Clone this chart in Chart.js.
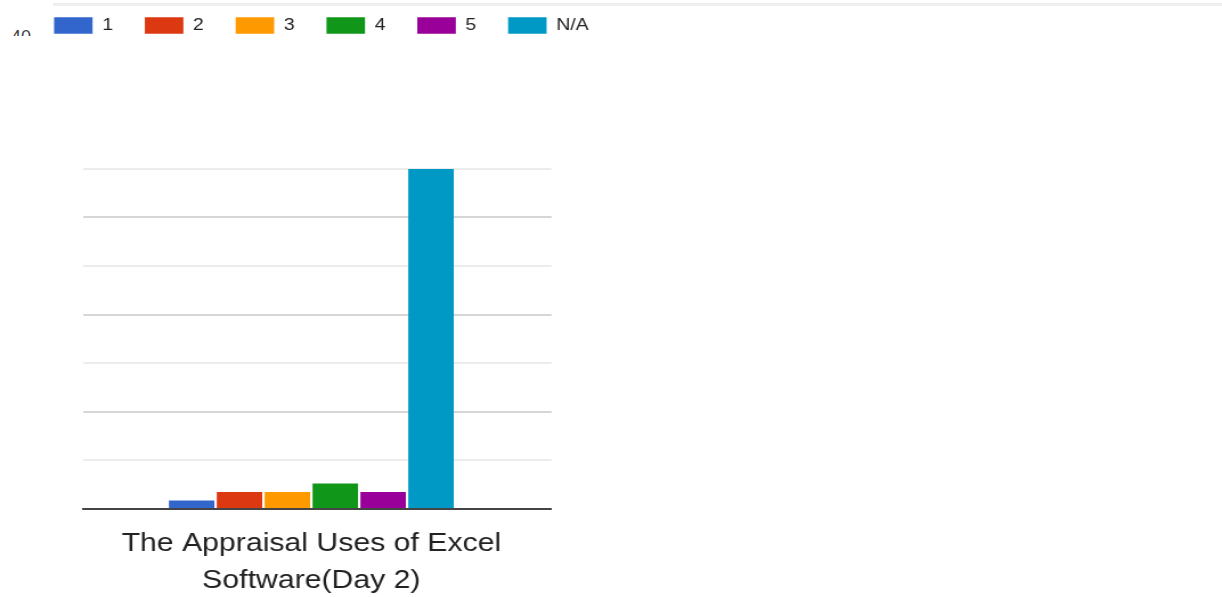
<!DOCTYPE html>
<html lang="en">
<head>
  <meta charset="UTF-8">
  <title>The Appraisal Uses of Excel Software (Day 2)</title>
  <script src="https://cdn.jsdelivr.net/npm/chart.js"></script>
  <style>
    body {
      margin: 0;
      width: 1222px;
      height: 597px;
      overflow: hidden;
      background: #fff;
      font-family: "Liberation Sans", Arial, sans-serif;
      position: relative;
    }
    .top-rule {
      position: absolute;
      left: 53px;
      right: 0;
      top: 3px;
      height: 3px;
      background: #efefef;
    }
    .cut-label {
      position: absolute;
      left: 11px;
      top: 29px;
      height: 7px;
      overflow: hidden;
      color: #444;
      font-size: 18px;
      line-height: 18px;
    }
    .cut-label span {
      position: relative;
      top: -1px;
    }
    #stage {
      position: absolute;
      left: 0;
      top: -13px;
      width: 1072px;
      height: 610px;
      transform: scaleX(1.14);
      transform-origin: 0 0;
    }
  </style>
</head>
<body>
  <div class="top-rule"></div>
  <div class="cut-label"><span>40</span></div>
  <div id="stage">
    <canvas id="chart" width="1072" height="610"></canvas>
  </div>

  <script>
    // values
    const category = ['The Appraisal Uses of Excel', 'Software(Day 2)'];
    const seriesNames = ['1', '2', '3', '4', '5', 'N/A'];
    const seriesValues = [1, 2, 2, 3, 2, 40];
    const seriesColors = ['#3366cc', '#dc3912', '#ff9900', '#109618', '#990099', '#0099c6'];
    const yMax = 40;
    const gridSteps = 7;

    Chart.defaults.font.family = '"Liberation Sans", Arial, sans-serif';

    // push the plot down below the legend
    const legendGap = {
      id: 'legendGap',
      beforeInit(chart) {
        const fit = chart.legend.fit;
        chart.legend.fit = function () {
          fit.call(this);
          this.height += 125;
        };
      }
    };

    const datasets = seriesNames.map((name, i) => ({
      label: name,
      data: [{ x: 0, y: seriesValues[i] }],
      backgroundColor: seriesColors[i],
      borderWidth: 0,
      barPercentage: 0.95,
      categoryPercentage: 0.613
    }));

    new Chart(document.getElementById('chart'), {
      type: 'bar',
      data: { datasets: datasets },
      plugins: [legendGap],
      options: {
        responsive: false,
        animation: false,
        layout: { padding: { left: 19.5, right: 0, top: 2, bottom: 0 } },
        plugins: {
          tooltip: { enabled: false },
          legend: {
            position: 'top',
            align: 'start',
            labels: {
              boxWidth: 33.8,
              boxHeight: 16.5,
              padding: 27.9,
              color: '#222',
              font: { size: 17 }
            }
          }
        },
        scales: {
          x: {
            type: 'linear',
            min: -0.5,
            max: 0.526,
            offset: false,
            grid: { display: false },
            border: { display: true, color: '#444', width: 2, z: 1 },
            afterBuildTicks: (s) => { s.ticks = [{ value: 0 }]; },
            afterFit: (s) => { s.height = 88; },
            ticks: {
              autoSkip: false,
              maxRotation: 0,
              padding: 8.5,
              color: '#222',
              font: { size: 26.5, lineHeight: 1.396 },
              callback: (v) => (v === 0 ? category : '')
            }
          },
          y: {
            min: 0,
            max: yMax,
            afterBuildTicks: (s) => {
              s.ticks = [];
              for (let k = 0; k <= gridSteps; k++) s.ticks.push({ value: yMax * k / gridSteps });
            },
            afterFit: (s) => { s.width = 53.3; },
            border: { display: false },
            ticks: { display: false },
            grid: {
              drawTicks: false,
              lineWidth: 2,
              color: (ctx) => {
                if (ctx.index === 0) return 'rgba(0,0,0,0)';
                return ctx.index % 2 === 0 ? '#d6d6d6' : '#ececec';
              }
            }
          },
          yPad: {
            type: 'linear',
            position: 'right',
            grid: { display: false },
            border: { display: false },
            ticks: { display: false },
            afterFit: (s) => { s.width = 588.2; }
          }
        }
      }
    });
  </script>
</body>
</html>
